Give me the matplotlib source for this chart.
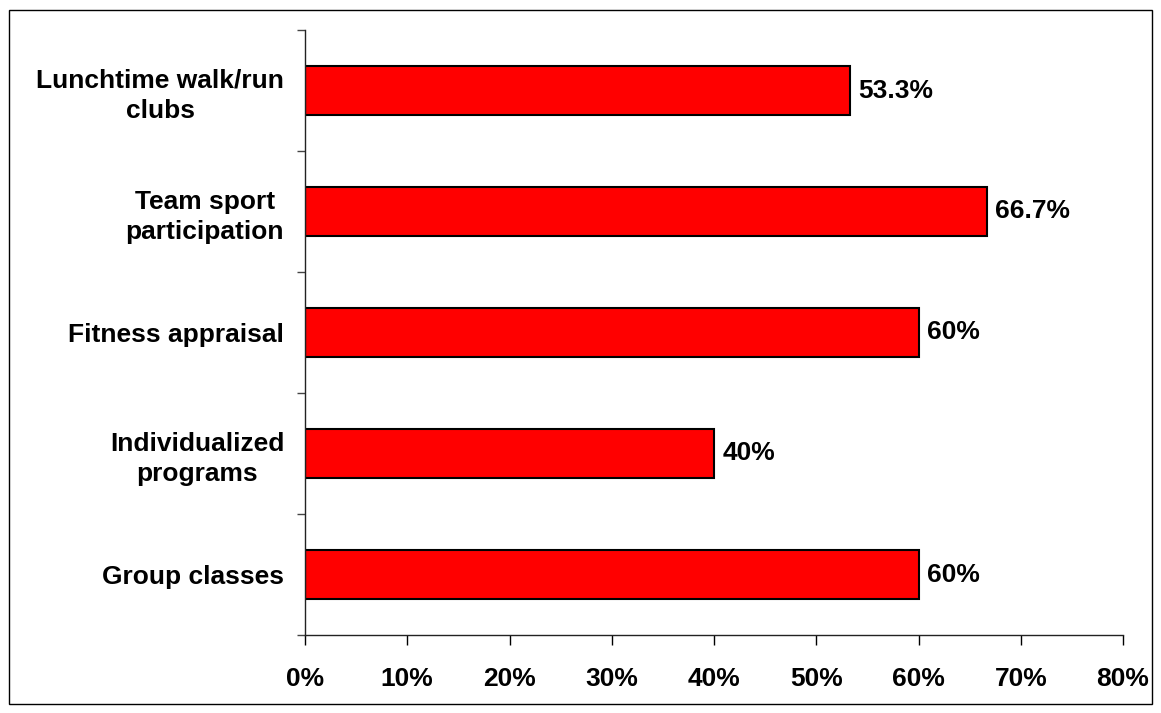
import numpy as np
import matplotlib.pyplot as plt
from matplotlib.patches import Rectangle

categories = ["Group classes", "Individualized\nprograms", "Fitness appraisal",
              "Team sport\nparticipation", "Lunchtime walk/run\nclubs"]
values = [60, 40, 60, 66.7, 53.3]
xticks = [0, 10, 20, 30, 40, 50, 60, 70, 80]

plt.rcParams['font.family'] = ['Liberation Sans', 'DejaVu Sans']
plt.rcParams['font.weight'] = 'bold'
plt.rcParams['font.size'] = 19

fig = plt.figure(figsize=(11.61, 7.13), dpi=100)
ax = fig.add_axes([305/1161, 1 - 635/713, (1123 - 305)/1161, (635 - 30)/713])

y = np.arange(len(categories))
ax.barh(y, values, height=0.4, color='#FF0000', edgecolor='black', linewidth=1.5)
for yi, v in zip(y, values):
    ax.annotate(f"{v:g}%", (v, yi), xytext=(6, 0), textcoords='offset points',
                va='center', ha='left', fontsize=19, fontweight='bold')

ax.set_xlim(0, 80)
ax.set_ylim(-0.5, len(categories) - 0.5)
ax.set_xticks(xticks)
ax.set_xticklabels([f"{t}%" for t in xticks])
ax.set_yticks(y)
ax.set_yticklabels(categories, multialignment='center', linespacing=1.3)
ax.set_yticks(np.arange(-0.5, len(categories)), minor=True)
ax.tick_params(axis='y', which='major', length=0, pad=15)
ax.tick_params(axis='y', which='minor', length=6, width=1, color='#444444')
ax.tick_params(axis='x', which='major', length=7, width=1, pad=16)

for s in ['top', 'right']:
    ax.spines[s].set_visible(False)
for s in ['left', 'bottom']:
    ax.spines[s].set_linewidth(1)
    ax.spines[s].set_color('#222222')

fig.patches.append(Rectangle((9/1161, 9/713), 1143/1161, 694/713, transform=fig.transFigure,
                             fill=False, edgecolor='black', linewidth=1))

fig.savefig('out.png', dpi=100)
